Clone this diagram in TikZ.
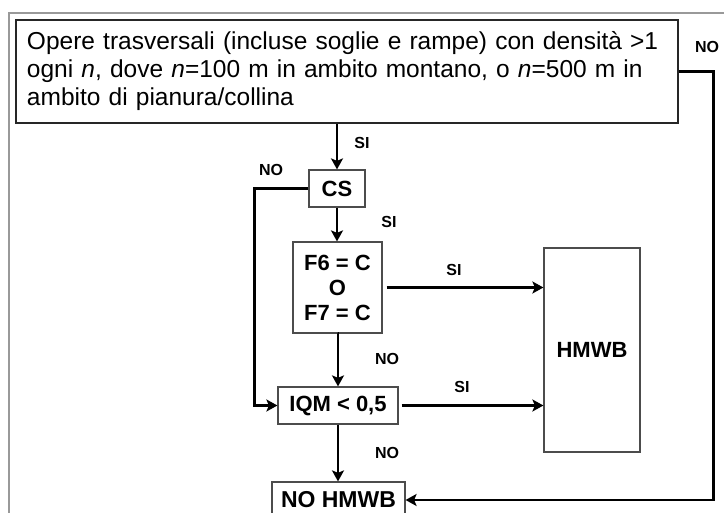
\documentclass[tikz,border=0pt]{standalone}
\usepackage{fontspec}
\setmainfont{Liberation Sans}
\usetikzlibrary{arrows.meta,calc}
\begin{document}
\begin{tikzpicture}[x=1pt,y=-1pt,
  box/.style={draw=black!70,line width=1.2pt,inner sep=0pt,font=\fontsize{22}{25}\selectfont\bfseries,align=center},
  lbl/.style={font=\fontsize{16}{18}\selectfont\bfseries,inner sep=0pt},
  arr/.style={line width=2.5pt,-{Stealth[length=11pt,width=12pt,inset=2.5pt]}}]
\useasboundingbox (0,0) rectangle (724,513);
\fill[white] (0,0) rectangle (724,513);
\draw[black!40,line width=1.5pt] (9,513) -- (9,13) -- (724,13);
\node[draw=black!85,line width=1.2pt,minimum width=662pt,minimum height=103pt,text width=640pt,inner xsep=11pt,inner ysep=0pt,align=left,font=\fontsize{24.5}{28}\selectfont] (top) at (347,71.5)
 {Opere trasversali (incluse soglie e rampe) con densità >1\\ogni \textit{n}, dove \textit{n}=100 m in ambito montano, o \textit{n}=500 m in\\ambito di pianura/collina};
\node[box,minimum width=56pt,minimum height=37pt] (cs) at (337,188.5) {CS};
\node[box,minimum width=89pt,minimum height=91pt] (f6) at (337.5,287.5) {F6 = C\\O\\F7 = C};
\node[box,minimum width=120pt,minimum height=37pt] (iqm) at (338,405.5) {IQM < 0,5};
\node[box,minimum width=133pt,minimum height=36pt,font=\fontsize{23}{25}\selectfont\bfseries] (noh) at (338.5,500) {NO HMWB};
\node[box,minimum width=96pt,minimum height=204pt] (hmwb) at (592,350) {HMWB};
\draw[arr] (cs.north |- top.south) -- (cs.north);
\draw[arr] (cs.south) -- (cs.south |- f6.north);
\draw[arr] (cs.west) -- ++(-54,0) |- (iqm.west);
\draw[arr,shorten <=4pt] (f6.east) -- (f6.east -| hmwb.west);
\draw[arr] (f6.south) -- (f6.south -| iqm.north) -- (iqm.north);
\draw[arr,shorten <=3pt] (iqm.east) -- (iqm.east -| hmwb.west);
\draw[arr] (iqm.south) -- (iqm.south |- noh.north);
\draw[arr] (top.east) -- ++(35,0) |- (noh.east);
\node[lbl] at (362,143) {SI};
\node[lbl] at (389,222) {SI};
\node[lbl] at (271,170) {NO};
\node[lbl] at (454,270) {SI};
\node[lbl] at (387,359) {NO};
\node[lbl] at (462,387) {SI};
\node[lbl] at (387,453) {NO};
\node[lbl] at (707,47) {NO};
\end{tikzpicture}
\end{document}
